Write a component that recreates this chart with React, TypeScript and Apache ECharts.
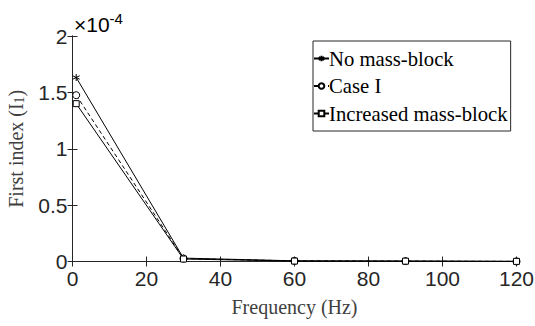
import React, { useEffect, useRef } from "react";
import * as echarts from "echarts";

const frequencies = [1, 30, 60, 90, 120];
const noMassBlock = [1.632, 0.03, 0.006, 0.004, 0.001];
const caseI = [1.475, 0.026, 0.005, 0.003, 0.001];
const increasedMassBlock = [1.4, 0.022, 0.004, 0.003, 0.001];
const xTicks = [0, 20, 40, 60, 80, 100, 120];
const yTicks = [0, 0.5, 1, 1.5, 2];

const starPath = "path://M5,0L5,10M0.7,2.5L9.3,7.5M0.7,7.5L9.3,2.5";

export default function App() {
  const ref = useRef<HTMLDivElement>(null);
  useEffect(() => {
    if (!ref.current) return;
    const chart = echarts.init(ref.current, null, { renderer: "svg" });
    const pair = (vals: number[]) => frequencies.map((f, i) => [f, vals[i]]);
    const axisLine = { show: true, lineStyle: { color: "#262626", width: 1 } };
    const tickLabel = { fontFamily: "Liberation Sans, Arial", fontSize: 21, color: "#262626" };
    chart.setOption({
      animation: false,
      grid: { left: 72.5, right: 18.5, top: 36, bottom: 64.5, containLabel: false, outerBoundsMode: "none" },
      legend: {
        orient: "vertical",
        left: 313,
        top: 41,
        padding: [7, 3, 7, 0],
        itemGap: 6.5,
        itemWidth: 15,
        itemHeight: 7,
        borderColor: "#262626",
        borderWidth: 1,
        backgroundColor: "#fff",
        textStyle: { fontFamily: "Liberation Serif, Times New Roman", fontSize: 20.7, color: "#000", padding: [0, 0, 0, -5] },
        data: ["No mass-block", "Case I", "Increased mass-block"],
      },
      graphic: [
        {
          type: "text",
          left: 74,
          top: 11,
          style: {
            text: "{a|×10}{b|-4}",
            rich: {
              a: { fontFamily: "Liberation Sans, Arial", fontSize: 21, color: "#262626", verticalAlign: "bottom", height: 24 },
              b: { fontFamily: "Liberation Sans, Arial", fontSize: 15, color: "#262626", verticalAlign: "top", padding: [0, 0, 10, 0] },
            },
          },
        },
      ],
      xAxis: [
        {
          type: "value",
          min: 0,
          max: 120,
          interval: 20,
          name: "Frequency (Hz)",
          nameLocation: "middle",
          nameGap: 35,
          nameTextStyle: { fontFamily: "Liberation Serif, Times New Roman", fontSize: 20, color: "#404040" },
          axisLine,
          axisTick: { inside: true, length: 5, lineStyle: { color: "#262626" } },
          axisLabel: { ...tickLabel, margin: 6, customValues: xTicks },
          splitLine: { show: false },
        },
        {
          type: "value",
          position: "top",
          min: 0,
          max: 120,
          interval: 20,
          axisLine,
          axisTick: { inside: true, length: 5, lineStyle: { color: "#262626" } },
          axisLabel: { show: false },
          splitLine: { show: false },
        },
      ],
      yAxis: [
        {
          type: "value",
          min: 0,
          max: 2,
          interval: 0.5,
          name: "{n|First index (I}{s|1}{n|)}",
          nameLocation: "middle",
          nameGap: 46,
          nameTextStyle: {
            rich: {
              n: { fontFamily: "Liberation Serif, Times New Roman", fontSize: 20, color: "#404040" },
              s: { fontFamily: "Liberation Serif, Times New Roman", fontSize: 14, color: "#404040", padding: [8, 0, 0, 0] },
            },
          },
          axisLine,
          axisTick: { inside: true, length: 5, lineStyle: { color: "#262626" } },
          axisLabel: { ...tickLabel, margin: 5, customValues: yTicks },
          splitLine: { show: false },
        },
        {
          type: "value",
          position: "right",
          min: 0,
          max: 2,
          interval: 0.5,
          axisLine,
          axisTick: { inside: true, length: 5, lineStyle: { color: "#262626" } },
          axisLabel: { show: false },
          splitLine: { show: false },
        },
      ],
      series: [
        {
          name: "No mass-block",
          type: "line",
          data: pair(noMassBlock),
          symbol: starPath,
          symbolSize: 7,
          lineStyle: { color: "#000", width: 1, type: "solid" },
          itemStyle: { color: "#000", borderColor: "#000", borderWidth: 1 },
        },
        {
          name: "Case I",
          type: "line",
          data: pair(caseI),
          symbol: "circle",
          symbolSize: 7,
          lineStyle: { color: "#000", width: 1, type: [4, 3] },
          itemStyle: { color: "#fff", borderColor: "#000", borderWidth: 1 },
        },
        {
          name: "Increased mass-block",
          type: "line",
          data: pair(increasedMassBlock),
          symbol: "rect",
          symbolSize: 6,
          lineStyle: { color: "#000", width: 1, type: "solid" },
          itemStyle: { color: "#fff", borderColor: "#000", borderWidth: 1 },
        },
      ],
    });
    return () => chart.dispose();
  }, []);
  return <div ref={ref} style={{ width: 535, height: 326, position: "absolute", left: 0, top: 0, background: "#fff" }} />;
}
